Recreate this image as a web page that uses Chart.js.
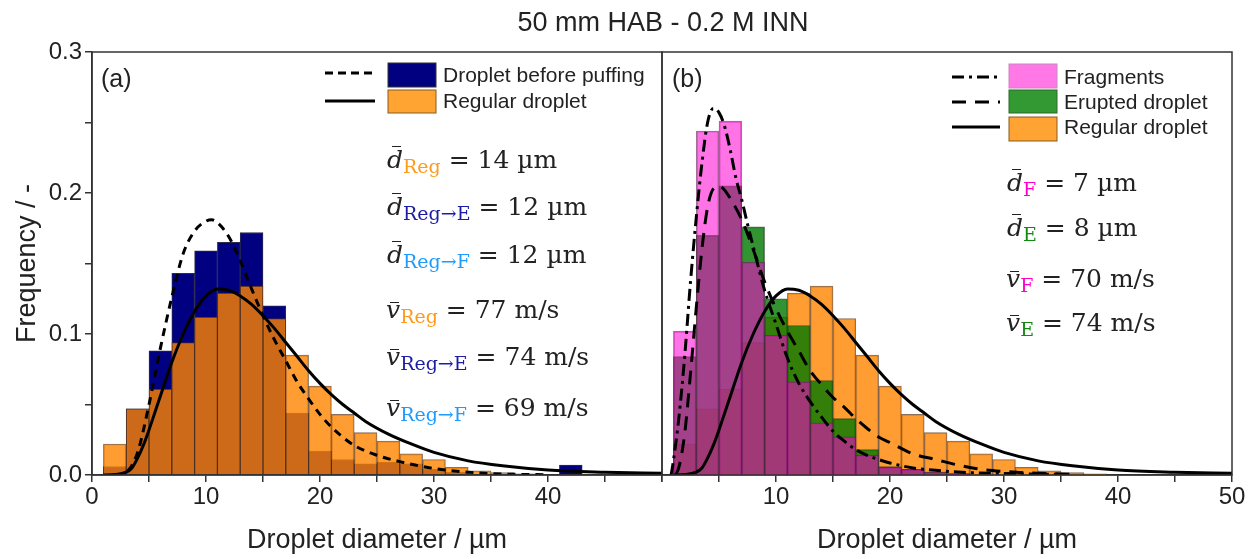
<!DOCTYPE html>
<html>
<head>
<meta charset="utf-8">
<title>50 mm HAB - 0.2 M INN</title>
<script src="https://cdn.jsdelivr.net/npm/chart.js"></script>
<style>
  body { margin:0; background:#fff; width:1253px; height:559px; position:relative; overflow:hidden;
         font-family:"Liberation Sans", Arial, sans-serif; color:#222; }
  canvas { position:absolute; top:0; }
  .t { position:absolute; white-space:nowrap; }
  .leg { font-size:21px; line-height:24px; }
  .m { font-family:"DejaVu Serif", serif; font-size:25px; line-height:30px; }
  .sub { position:relative; top:5px; font-size:19px; line-height:0; }
  .ov { position:relative; font-style:italic; }
  .ov::after { content:''; position:absolute; left:30%; width:60%; border-top:1.5px solid #222; }
  .ov.d::after { top:1px; }
  .ov.v::after { top:7px; }
</style>
</head>
<body>
<canvas id="chartA" width="700" height="559" style="left:0"></canvas>
<canvas id="chartB" width="613" height="559" style="left:640px"></canvas>

<div class="t" style="left:463px; width:400px; text-align:center; top:7px; font-size:27px; line-height:30px;">50 mm HAB - 0.2 M INN</div>
<div class="t" style="left:101px; top:63px; font-size:25px; line-height:30px;">(a)</div>
<div class="t" style="left:672px; top:63px; font-size:25px; line-height:30px;">(b)</div>

<!-- legend (a) -->
<svg class="t" style="left:320px; top:60px" width="125" height="56">
  <line x1="5" x2="52" y1="13" y2="13" stroke="#000" stroke-width="3" stroke-dasharray="8 5"/>
  <line x1="5" x2="55" y1="41" y2="41" stroke="#000" stroke-width="3"/>
  <rect x="68" y="3" width="48" height="24" fill="#000080" stroke="#333" stroke-width="1"/>
  <rect x="68" y="30" width="48" height="23" fill="#ffa333" stroke="#8a5a20" stroke-width="1"/>
</svg>
<div class="t leg" style="left:443px; top:63px;">Droplet before puffing</div>
<div class="t leg" style="left:443px; top:89px;">Regular droplet</div>

<!-- legend (b) -->
<svg class="t" style="left:948px; top:60px" width="115" height="84">
  <line x1="4" x2="52" y1="17" y2="17" stroke="#000" stroke-width="3" stroke-dasharray="12 5 3 5"/>
  <line x1="4" x2="52" y1="42" y2="42" stroke="#000" stroke-width="3" stroke-dasharray="14 9"/>
  <line x1="4" x2="52" y1="67" y2="67" stroke="#000" stroke-width="3"/>
  <rect x="61" y="4" width="48" height="24" fill="#ff78e6" stroke="#c58ac0" stroke-width="1"/>
  <rect x="61" y="30" width="48" height="23" fill="#339933" stroke="#2a6a2a" stroke-width="1"/>
  <rect x="61" y="57" width="48" height="24" fill="#ffa333" stroke="#8a5a20" stroke-width="1"/>
</svg>
<div class="t leg" style="left:1064px; top:65px;">Fragments</div>
<div class="t leg" style="left:1064px; top:90px;">Erupted droplet</div>
<div class="t leg" style="left:1064px; top:115px;">Regular droplet</div>

<!-- mean values (a) -->
<div class="t m" style="left:387px; top:145px;"><span class="ov d">d</span><span class="sub" style="color:#ff9a1a">Reg</span> = 14 µm</div>
<div class="t m" style="left:387px; top:192px;"><span class="ov d">d</span><span class="sub" style="color:#1c1ca6">Reg→E</span> = 12 µm</div>
<div class="t m" style="left:387px; top:240px;"><span class="ov d">d</span><span class="sub" style="color:#1e9bff">Reg→F</span> = 12 µm</div>
<div class="t m" style="left:386px; top:295px;"><span class="ov v">v</span><span class="sub" style="color:#ff9a1a">Reg</span> = 77 m/s</div>
<div class="t m" style="left:386px; top:342px;"><span class="ov v">v</span><span class="sub" style="color:#1c1ca6">Reg→E</span> = 74 m/s</div>
<div class="t m" style="left:386px; top:393px;"><span class="ov v">v</span><span class="sub" style="color:#1e9bff">Reg→F</span> = 69 m/s</div>

<!-- mean values (b) -->
<div class="t m" style="left:1007px; top:168px;"><span class="ov d">d</span><span class="sub" style="color:#ff00cc">F</span> = 7 µm</div>
<div class="t m" style="left:1007px; top:213px;"><span class="ov d">d</span><span class="sub" style="color:#108a10">E</span> = 8 µm</div>
<div class="t m" style="left:1006px; top:264px;"><span class="ov v">v</span><span class="sub" style="color:#ff00cc">F</span> = 70 m/s</div>
<div class="t m" style="left:1006px; top:308px;"><span class="ov v">v</span><span class="sub" style="color:#108a10">E</span> = 74 m/s</div>

<script>
// histogram bins, 2 µm wide
const binCenters = [2, 4, 6, 8, 10, 12, 14, 16, 18, 20, 22, 24, 26, 28, 30, 32, 34, 36, 38, 40, 42];

const beforePuffing = [0.006, 0.047, 0.088, 0.143, 0.159, 0.165, 0.172, 0.120, 0.044, 0.017, 0.011, 0.008, 0.009, 0.008, 0.004, 0.002, 0, 0, 0, 0, 0.007];
const regular       = [0.022, 0.047, 0.061, 0.094, 0.112, 0.129, 0.134, 0.111, 0.085, 0.063, 0.043, 0.030, 0.024, 0.015, 0.011, 0.0054, 0.0029, 0.0017, 0.0008, 0, 0];
const fragments     = [0.102, 0.244, 0.251, 0.151, 0.099, 0.066, 0.037, 0.027, 0.014, 0.0054, 0.004, 0.002, 0.001, 0, 0, 0, 0, 0, 0, 0, 0];
const erupted       = [0.084, 0.170, 0.205, 0.176, 0.125, 0.106, 0.067, 0.040, 0.018, 0.006, 0.004, 0.002, 0.001, 0, 0, 0, 0, 0, 0, 0, 0];

// fitted distributions
const beforeCurveX = [2, 3, 4, 5, 6, 7, 8, 9, 10, 10.5, 11, 12, 13, 14, 15, 16, 17, 18, 19, 20, 21, 23, 25, 27, 29, 31, 34, 37, 40];
const beforeCurveY = [0, 0.002, 0.016, 0.050, 0.090, 0.126, 0.157, 0.173, 0.180, 0.181, 0.179, 0.169, 0.152, 0.132, 0.113, 0.096, 0.081, 0.066, 0.054, 0.043, 0.034, 0.021, 0.014, 0.0095, 0.006, 0.0035, 0.0014, 0.0005, 0.0002];

const regularCurveX = [1, 2, 3, 3.5, 4, 4.5, 5, 5.5, 6, 7, 8, 9, 10, 11, 12, 13, 14, 15, 16, 17, 18, 19, 20, 21, 22, 23, 24, 26, 28, 30, 33, 36, 40, 45, 50];
const regularCurveY = [0, 0.0003, 0.002, 0.005, 0.012, 0.021, 0.032, 0.044, 0.056, 0.080, 0.100, 0.116, 0.127, 0.132, 0.131, 0.127, 0.121, 0.113, 0.104, 0.094, 0.084, 0.074, 0.065, 0.057, 0.050, 0.044, 0.038, 0.029, 0.022, 0.016, 0.010, 0.0065, 0.0035, 0.002, 0.0012];

const fragCurveX = [0.8, 1, 1.5, 2, 2.5, 3, 3.5, 4, 4.5, 5, 5.5, 6, 6.5, 7, 7.5, 8, 9, 10, 11, 12, 13, 14, 15, 16, 17, 18, 19, 20, 22, 24, 27, 30, 35];
const fragCurveY = [0, 0.01, 0.042, 0.085, 0.137, 0.182, 0.221, 0.250, 0.260, 0.257, 0.247, 0.230, 0.210, 0.195, 0.178, 0.162, 0.131, 0.107, 0.083, 0.065, 0.052, 0.041, 0.031, 0.024, 0.018, 0.014, 0.011, 0.0085, 0.005, 0.0033, 0.0017, 0.001, 0.0004];

const eruptCurveX = [1.2, 1.5, 2, 2.5, 3, 3.5, 4, 4.5, 5, 5.5, 6, 7, 8, 9, 10, 11, 12, 13, 14, 15, 16, 17, 18, 19, 20, 22, 24, 26, 28, 30, 33, 36];
const eruptCurveY = [0, 0.006, 0.03, 0.072, 0.118, 0.16, 0.19, 0.203, 0.205, 0.202, 0.196, 0.181, 0.16, 0.137, 0.118, 0.102, 0.088, 0.074, 0.064, 0.055, 0.048, 0.040, 0.033, 0.027, 0.023, 0.015, 0.011, 0.007, 0.004, 0.0025, 0.0012, 0.0005];

Chart.defaults.font.family = '"Liberation Sans", Arial, sans-serif';
Chart.defaults.color = '#222';

const bars = ys => binCenters.map((x, i) => ({ x: x, y: ys[i] ? ys[i] : null }));
const pts = (xs, ys) => xs.map((x, i) => ({ x: x, y: ys[i] }));

function histo(label, ys, color, border, order) {
    return { type: 'bar', label: label, data: bars(ys), backgroundColor: color, borderColor: border,
             borderWidth: 1, grouped: false, barPercentage: 1, categoryPercentage: 1, order: order };
}
function curve(label, xs, ys, dash) {
    return { type: 'line', label: label, data: pts(xs, ys), borderColor: '#000', borderWidth: 3,
             borderDash: dash, pointRadius: 0, cubicInterpolationMode: 'monotone', fill: false, order: 0 };
}

const framePlugin = {
    id: 'frame',
    afterDatasetsDraw(chart) {
        const { ctx, chartArea: a } = chart;
        ctx.save();
        ctx.strokeStyle = '#333';
        ctx.lineWidth = 1.5;
        ctx.strokeRect(a.left, a.top, a.right - a.left, a.bottom - a.top);
        ctx.restore();
    }
};

function xScale(labelFn) {
    return {
        type: 'linear', min: 0, max: 50, offset: false,
        grid: { offset: false, drawOnChartArea: false, tickLength: 7, color: '#333', lineWidth: 1.5 },
        border: { color: '#333', width: 1.5 },
        ticks: { stepSize: 5, autoSkip: false, maxRotation: 0, padding: 1, font: { size: 24 }, callback: labelFn },
        title: { display: true, text: 'Droplet diameter / µm', font: { size: 27 }, padding: { top: 0, bottom: 2 } },
        afterFit: s => { s.height = 84; }
    };
}

new Chart(document.getElementById('chartA'), {
    type: 'bar',
    data: {
        datasets: [
            histo('Droplet before puffing', beforePuffing, '#000080', 'rgba(20,20,60,0.9)', 5),
            histo('Regular droplet', regular, 'rgba(255,132,0,0.8)', 'rgba(90,50,20,0.7)', 4),
            curve('before puffing fit', beforeCurveX, beforeCurveY, [8, 6]),
            curve('regular fit', regularCurveX, regularCurveY, [])
        ]
    },
    options: {
        responsive: false, animation: false,
        layout: { padding: { top: 52, right: 38, bottom: 0, left: 0 } },
        plugins: { legend: { display: false }, tooltip: { enabled: false } },
        scales: {
            x: xScale(v => (v % 10 === 0 && v < 50 ? v : '')),
            y: {
                min: 0, max: 0.3,
                grid: { drawOnChartArea: false, tickLength: 7, color: '#333', lineWidth: 1.5 },
                border: { color: '#333', width: 1.5 },
                ticks: { stepSize: 0.05, padding: 3, font: { size: 24 },
                         callback: v => (Math.round(v * 100) % 10 === 0 ? v.toFixed(1) : '') },
                title: { display: true, text: 'Frequency / -', font: { size: 27 }, padding: { top: 11, bottom: 0 } },
                afterFit: s => { s.width = 92; }
            }
        }
    },
    plugins: [framePlugin]
});

new Chart(document.getElementById('chartB'), {
    type: 'bar',
    data: {
        datasets: [
            histo('Regular droplet', regular, 'rgba(255,132,0,0.8)', 'rgba(90,50,20,0.7)', 6),
            histo('Erupted droplet', erupted, 'rgba(0,120,0,0.8)', 'rgba(20,60,20,0.7)', 5),
            histo('Fragments', fragments, 'rgba(255,0,210,0.55)', 'rgba(90,30,80,0.6)', 4),
            curve('fragments fit', fragCurveX, fragCurveY, [12, 5, 3, 5]),
            curve('erupted fit', eruptCurveX, eruptCurveY, [14, 9]),
            curve('regular fit', regularCurveX, regularCurveY, [])
        ]
    },
    options: {
        responsive: false, animation: false,
        layout: { padding: { top: 52, right: 21, bottom: 0, left: 22 } },
        plugins: { legend: { display: false }, tooltip: { enabled: false } },
        scales: {
            x: xScale(v => (v % 10 === 0 && v > 0 ? v : '')),
            y: { min: 0, max: 0.3, display: false }
        }
    },
    plugins: [framePlugin]
});
</script>
</body>
</html>
